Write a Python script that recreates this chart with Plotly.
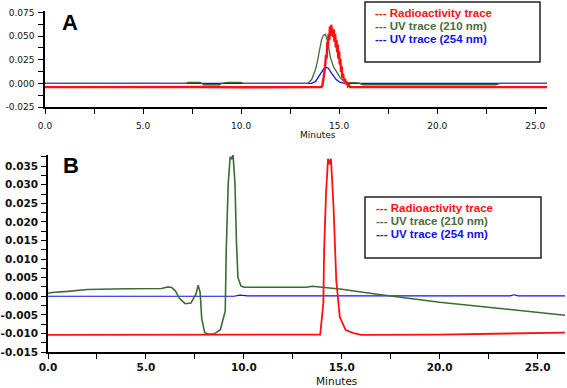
import plotly.graph_objects as go

# ---------------- Panel A data ----------------
a_red_t = [0.0, 2.0, 4.0, 6.0, 8.0, 10.0, 12.0, 14.10, 14.15, 14.20, 14.25, 14.30, 14.33, 14.36, 14.40, 14.43,
           14.46, 14.50, 14.53, 14.56, 14.60, 14.63, 14.66, 14.70, 14.73, 14.76, 14.80, 14.83,
           14.86, 14.90, 14.93, 14.96, 15.00, 15.03, 15.06, 15.10, 15.13, 15.16, 15.20, 15.25,
           15.30, 15.35, 15.40, 15.45, 15.50, 15.55, 15.60, 17.0, 19.0, 21.0, 23.0, 25.6]
a_red_v = [-0.0040, -0.0038, -0.0042, -0.0040, -0.0039, -0.0041, -0.0040, -0.004, -0.002, 0.004, 0.012, 0.022, 0.030, 0.026, 0.044, 0.038,
           0.052, 0.046, 0.060, 0.050, 0.062, 0.053, 0.058, 0.049, 0.057, 0.044, 0.052, 0.038,
           0.046, 0.033, 0.041, 0.026, 0.034, 0.020, 0.026, 0.012, 0.018, 0.006, 0.010, 0.002,
           0.005, -0.001, 0.001, -0.003, -0.002, -0.004, -0.004, -0.0041, -0.0039, -0.0040, -0.0042, -0.0040]

a_uv210_t = [0.0, 7.2, 7.3, 7.9, 8.0, 8.1, 8.9, 9.0, 9.3, 10.0, 10.1, 13.4, 13.6, 13.8, 13.9, 14.0,
             14.1, 14.2, 14.3, 14.4, 14.55, 14.7, 14.9, 15.05, 15.2, 15.45, 16.0, 16.2, 23.0, 23.2, 25.6]
a_uv210_v = [0.0, 0.0, 0.001, 0.001, 0.0, -0.0015, -0.0015, 0.0, 0.001, 0.001, 0.0, 0.0, 0.004, 0.015, 0.024, 0.036,
             0.046, 0.051, 0.052, 0.045, 0.028, 0.018, 0.011, 0.006, 0.003, 0.001, 0.0005, -0.0015, -0.0015, 0.0, 0.0]

a_uv254_t = [0.0, 13.6, 13.8, 14.0, 14.1, 14.2, 14.33, 14.45, 14.6, 14.7, 14.85, 15.05, 15.3, 25.6]
a_uv254_v = [0.0, 0.0, 0.002, 0.008, 0.012, 0.015, 0.017, 0.016, 0.011, 0.0085, 0.004, 0.001, 0.0, 0.0]

# ---------------- Panel B data ----------------
b_red_t = [0.0, 13.7, 13.9, 14.06, 14.1, 14.2, 14.3, 14.37, 14.45, 14.58, 14.72, 14.9, 15.2, 15.6, 16.0, 20.0, 23.0, 26.4]
b_red_v = [-0.0104, -0.0104, -0.0103, -0.0019, 0.0123, 0.028, 0.037, 0.0355, 0.037, 0.024, 0.0043, -0.0056,
           -0.0091, -0.0099, -0.0104, -0.0103, -0.0101, -0.0098]

b_uv210_t = [0.0, 0.2, 1.0, 2.0, 4.0, 5.8, 6.1, 6.3, 6.5, 6.7, 7.0, 7.3, 7.55, 7.67, 7.77, 7.85, 8.0, 8.2, 8.5, 8.8,
             8.95, 9.05, 9.1, 9.2, 9.3, 9.38, 9.45, 9.55, 9.62, 9.7, 9.85, 10.0, 13.2, 13.5, 15.0, 17.0, 20.0,
             22.5, 25.0, 26.4]
b_uv210_v = [0.0008, 0.0010, 0.0013, 0.0018, 0.0020, 0.0021, 0.0025, 0.0024, 0.0015, -0.0005, -0.0020, -0.0018,
             0.0005, 0.0030, 0.0010, -0.0060, -0.0098, -0.0102, -0.0101, -0.0090, -0.0060, -0.0040, 0.0120,
             0.0300, 0.0375, 0.0370, 0.0380, 0.0300, 0.0150, 0.0050, 0.0028, 0.0024, 0.0024, 0.0027, 0.0019,
             0.0004, -0.0016, -0.0029, -0.0042, -0.0051]

b_uv254_t = [0.0, 9.5, 9.8, 10.2, 23.6, 23.8, 24.0, 26.4]
b_uv254_v = [0.0, 0.0, 0.0003, 0.0001, 0.0001, 0.0004, 0.0001, 0.0001]

# ---------------- tick labels / legend text ----------------
x_ticks = [0, 5, 10, 15, 20, 25]
x_ticktext = ["0.0", "5.0", "10.0", "15.0", "20.0", "25.0"]
a_y_ticks = [-0.025, 0.0, 0.025, 0.05, 0.075]
a_y_ticktext = ["-0.025", "0.000", "0.025", "0.050", "0.075"]
b_y_ticks = [-0.015, -0.01, -0.005, 0.0, 0.005, 0.01, 0.015, 0.02, 0.025, 0.03, 0.035]
b_y_ticktext = ["-0.015", "-0.010", "-0.005", "0.000", "0.005", "0.010", "0.015", "0.020", "0.025", "0.030", "0.035"]
legend_labels = ["--- Radioactivity trace", "--- UV trace (210 nm)", "--- UV trace (254 nm)"]

RED = "#ff1010"
GREEN = "#3d6b35"
BLUE = "#1010f0"
LEG_COLORS = [RED, "#4d6b40", BLUE]

W, H = 567, 388


def px(x):
    return x / W


def py(y):
    return 1 - y / H


fig = go.Figure()
# Panel A
fig.add_trace(go.Scatter(x=a_uv254_t, y=a_uv254_v, mode="lines", line=dict(color=BLUE, width=1.3), xaxis="x", yaxis="y"))
fig.add_trace(go.Scatter(x=a_uv210_t, y=a_uv210_v, mode="lines", line=dict(color=GREEN, width=1.3), xaxis="x", yaxis="y"))
fig.add_trace(go.Scatter(x=a_red_t, y=a_red_v, mode="lines", line=dict(color=RED, width=2.4), xaxis="x", yaxis="y"))
# Panel B
fig.add_trace(go.Scatter(x=b_uv254_t, y=b_uv254_v, mode="lines", line=dict(color=BLUE, width=1.2), xaxis="x2", yaxis="y2"))
fig.add_trace(go.Scatter(x=b_uv210_t, y=b_uv210_v, mode="lines", line=dict(color=GREEN, width=1.6), xaxis="x2", yaxis="y2"))
fig.add_trace(go.Scatter(x=b_red_t, y=b_red_v, mode="lines", line=dict(color=RED, width=1.8), xaxis="x2", yaxis="y2"))

axis_common = dict(showline=True, linecolor="black", linewidth=1.5, ticks="outside", ticklen=5,
                   tickwidth=1.2, tickcolor="black", showgrid=False, zeroline=False, automargin=False)

fig.update_layout(
    width=W, height=H, margin=dict(l=0, r=0, t=0, b=0, autoexpand=False),
    paper_bgcolor="white", plot_bgcolor="white", showlegend=False,
    xaxis=dict(domain=[px(45), px(547)], range=[0, 25.6], anchor="y", tickmode="array",
               tickvals=x_ticks, ticktext=x_ticktext, ticklabelstandoff=4,
               tickfont=dict(family="DejaVu Sans", size=9, color="#111"),
               minor=dict(ticks="outside", dtick=2.5, tick0=0, ticklen=5, tickcolor="black"),
               **axis_common),
    yaxis=dict(domain=[py(107), py(11)], range=[-0.025, 0.0765], anchor="x", tickmode="array",
               tickvals=a_y_ticks, ticktext=a_y_ticktext, ticklabelstandoff=2,
               tickfont=dict(family="DejaVu Sans", size=9, color="#111"),
               minor=dict(ticks="outside", dtick=0.0125, tick0=0, ticklen=5, tickcolor="black"),
               **axis_common),
    xaxis2=dict(domain=[px(48), px(565)], range=[0, 26.4], anchor="y2", tickmode="array",
                tickvals=x_ticks, ticktext=x_ticktext, ticklabelstandoff=0,
                tickfont=dict(family="DejaVu Sans", size=10.5, color="#111", weight="bold"),
                minor=dict(ticks="outside", dtick=2.5, tick0=0, ticklen=5, tickcolor="black"),
                **axis_common),
    yaxis2=dict(domain=[py(352), py(155)], range=[-0.015, 0.038], anchor="x2", tickmode="array",
                tickvals=b_y_ticks, ticktext=b_y_ticktext, ticklabelstandoff=1,
                tickfont=dict(family="DejaVu Sans", size=10.5, color="#111", weight="bold"),
                minor=dict(ticks="outside", dtick=0.0025, tick0=0, ticklen=5, tickcolor="black"),
                **axis_common),
)

annotations = []
shapes = []
# Panel letters
annotations.append(dict(text="<b>A</b>", x=px(70), y=py(22), xref="paper", yref="paper", showarrow=False,
                        font=dict(family="Liberation Sans", size=22, color="black"), xanchor="center", yanchor="middle"))
annotations.append(dict(text="<b>B</b>", x=px(71), y=py(165), xref="paper", yref="paper", showarrow=False,
                        font=dict(family="Liberation Sans", size=22, color="black"), xanchor="center", yanchor="middle"))
# Axis titles
annotations.append(dict(text="Minutes", x=px(318), y=py(135), xref="paper", yref="paper", showarrow=False,
                        font=dict(family="DejaVu Sans", size=9, color="#111"), xanchor="center", yanchor="middle"))
annotations.append(dict(text="Minutes", x=px(336), y=0, xref="paper", yref="paper", showarrow=False,
                        font=dict(family="DejaVu Sans", size=10.5, color="#111"), xanchor="center", yanchor="bottom",
                        borderpad=0))

# Legends (boxes + text)
for (x0, y0, x1, y1, tx, ty_list) in [(365, 2, 540, 62, 373, [13, 26, 39]),
                                      (365, 197, 541, 258, 374, [208, 221, 234])]:
    shapes.append(dict(type="rect", xref="paper", yref="paper", x0=px(x0), x1=px(x1), y0=py(y1), y1=py(y0),
                       line=dict(color="#222", width=1.5), fillcolor="white", layer="above"))
    for lab, col, ty in zip(legend_labels, LEG_COLORS, ty_list):
        annotations.append(dict(text="<b>" + lab + "</b>", x=px(tx), y=py(ty), xref="paper", yref="paper",
                                showarrow=False, xanchor="left", yanchor="middle",
                                font=dict(family="Liberation Sans", size=11.5, color=col)))

fig.update_layout(annotations=annotations, shapes=shapes)
fig.write_html("out.html", config={"displayModeBar": False},
               post_script="document.body.style.margin='0';document.body.style.overflow='hidden';")
